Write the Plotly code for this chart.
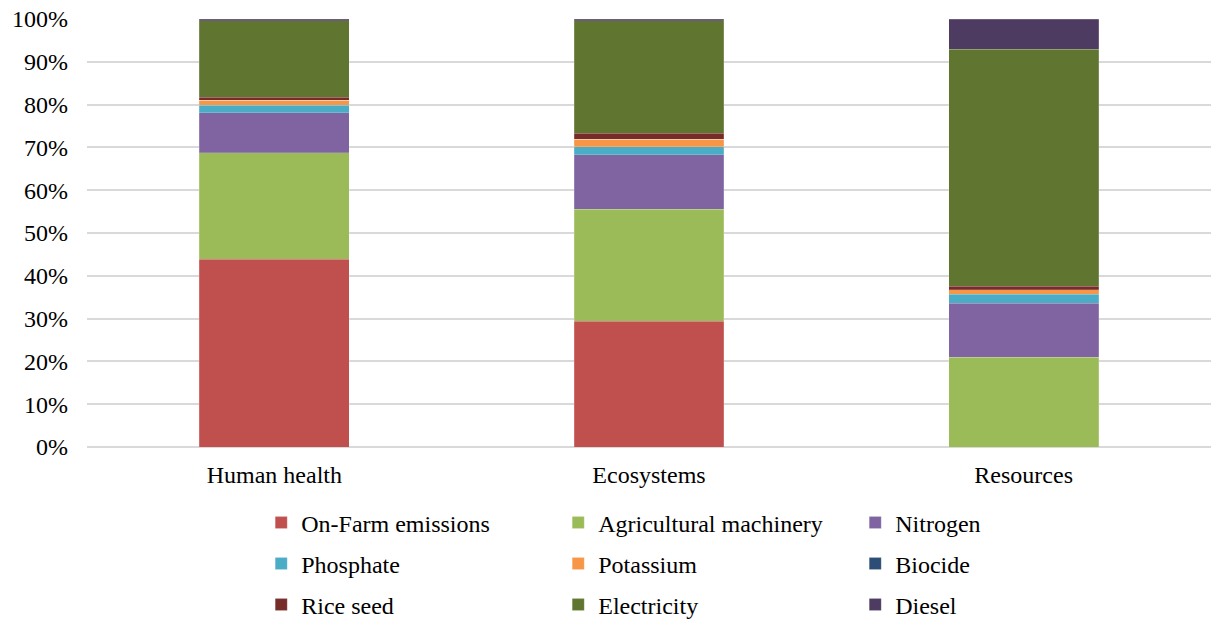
import plotly.graph_objects as go

categories = ["Human health", "Ecosystems", "Resources"]

on_farm = [43.9, 29.4, 0.0]
machinery = [24.8, 26.2, 21.0]
nitrogen = [9.4, 12.7, 12.6]
phosphate = [1.7, 1.9, 2.1]
potassium = [1.2, 1.7, 1.0]
biocide = [0.05, 0.05, 0.05]
rice_seed = [0.7, 1.4, 0.8]
electricity = [17.8, 26.2, 55.4]
diesel = [0.45, 0.45, 7.05]

series = [
    ("On-Farm emissions", on_farm, "#C0504D", "legend"),
    ("Agricultural machinery", machinery, "#9BBB59", "legend"),
    ("Nitrogen", nitrogen, "#8064A2", "legend"),
    ("Phosphate", phosphate, "#4BACC6", "legend2"),
    ("Potassium", potassium, "#F79646", "legend2"),
    ("Biocide", biocide, "#2C4D75", "legend2"),
    ("Rice seed", rice_seed, "#772C2A", "legend3"),
    ("Electricity", electricity, "#5F7530", "legend3"),
    ("Diesel", diesel, "#4D3B62", "legend3"),
]

font = dict(family="'Times New Roman', 'Liberation Serif', 'DejaVu Serif', serif",
            size=24, color="#000000")

fig = go.Figure()
for name, vals, color, leg in series:
    fig.add_trace(go.Bar(
        x=categories, y=vals, name=name, legend=leg,
        marker=dict(color=color, line=dict(color="rgba(255,255,255,0.35)", width=0.5)),
    ))

leg_common = dict(orientation="h", xanchor="left", yanchor="middle",
                  font=font, entrywidth=252, entrywidthmode="pixels",
                  bgcolor="rgba(0,0,0,0)", itemclick=False, traceorder="normal")

def leg_y(py):
    # convert a pixel row to paper coordinates of the plot area
    top, bottom = 19, 447
    return (bottom - py) / (bottom - top)

fig.update_layout(
    width=1211, height=623,
    margin=dict(l=87, r=0, t=19, b=176, autoexpand=False),
    barmode="stack", bargap=0.6,
    plot_bgcolor="white", paper_bgcolor="white",
    font=font,
    showlegend=True,
    legend=dict(x=0.155, y=leg_y(523), **leg_common),
    legend2=dict(x=0.155, y=leg_y(564), **leg_common),
    legend3=dict(x=0.155, y=leg_y(605), **leg_common),
    xaxis=dict(showline=False, ticks="", tickfont=font, ticklabelstandoff=11),
    yaxis=dict(range=[0, 100], dtick=10, ticksuffix="%", showgrid=True,
               gridcolor="#D9D9D9", gridwidth=1.5, zeroline=True,
               zerolinecolor="#D9D9D9", zerolinewidth=1.5,
               tickfont=font, ticklabelstandoff=18),
)

fig.write_html("out.html")
